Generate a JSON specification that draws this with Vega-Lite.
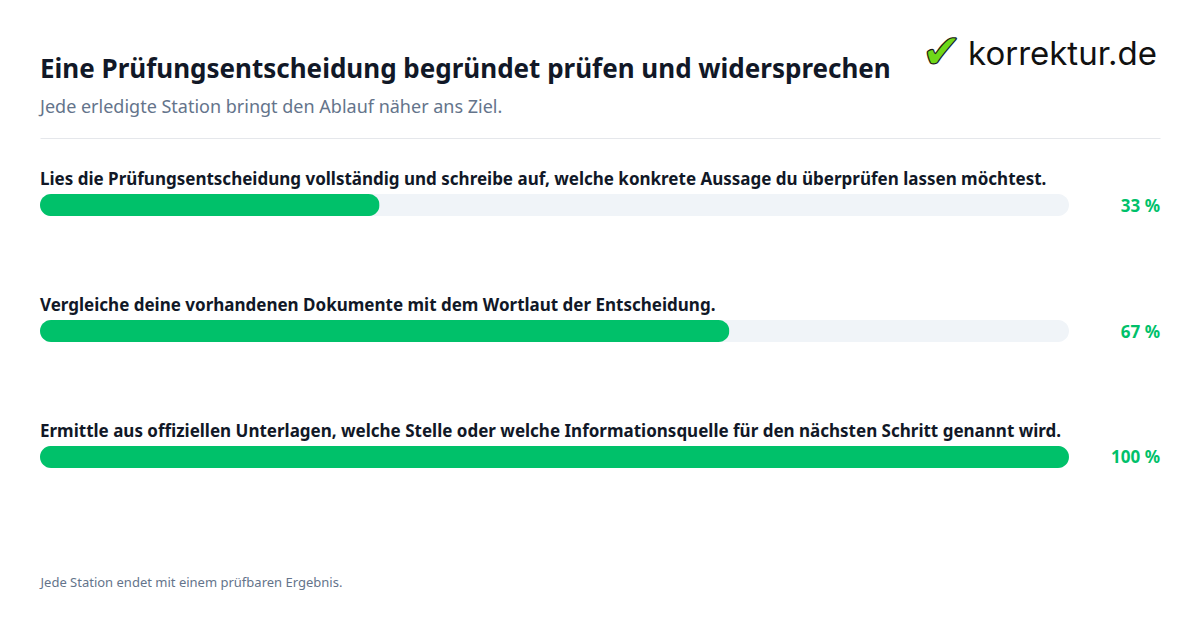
{
  "$schema": "https://vega.github.io/schema/vega-lite/v6.json",
  "width": 1120,
  "height": 386,
  "autosize": {"type": "none"},
  "padding": {"left": 40, "right": 40, "top": 138, "bottom": 106},
  "background": "#ffffff",
  "config": {"view": {"stroke": null}, "font": "Noto Sans"},
  "title": {
    "text": "Eine Prüfungsentscheidung begründet prüfen und widersprechen",
    "subtitle": "Jede erledigte Station bringt den Ablauf näher ans Ziel.",
    "anchor": "start",
    "frame": "group",
    "font": "Noto Sans",
    "fontSize": 26,
    "fontWeight": "bold",
    "color": "#111827",
    "subtitleFont": "Noto Sans",
    "subtitleFontSize": 18,
    "subtitleColor": "#64748b",
    "subtitlePadding": 16,
    "offset": -87
  },
  "data": {
    "values": [
      {"step": "Lies die Prüfungsentscheidung vollständig und schreibe auf, welche konkrete Aussage du überprüfen lassen möchtest.", "pct": 33, "label": "33 %"},
      {"step": "Vergleiche deine vorhandenen Dokumente mit dem Wortlaut der Entscheidung.", "pct": 67, "label": "67 %"},
      {"step": "Ermittle aus offiziellen Unterlagen, welche Stelle oder welche Informationsquelle für den nächsten Schritt genannt wird.", "pct": 100, "label": "100 %"}
    ]
  },
  "encoding": {
    "y": {"field": "step", "type": "nominal", "sort": null, "axis": null,
          "scale": {"paddingInner": 0, "paddingOuter": 0.032}}
  },
  "layer": [
    {
      "mark": {"type": "bar", "height": 22, "cornerRadius": 11, "color": "#f0f4f8"},
      "encoding": {
        "x": {"datum": 0, "type": "quantitative",
              "scale": {"domain": [0, 108.844], "nice": false, "zero": false},
              "axis": {"orient": "top", "title": null, "labels": false, "ticks": false, "grid": false,
                       "domain": true, "domainColor": "#e5e7eb", "domainWidth": 1}},
        "x2": {"datum": 100}
      }
    },
    {
      "mark": {"type": "bar", "height": 22, "cornerRadius": 11, "color": "#00c16a"},
      "encoding": {
        "x": {"field": "pct", "type": "quantitative",
              "scale": {"domain": [0, 108.844], "nice": false},
              "axis": {"orient": "bottom", "title": "Jede Station endet mit einem prüfbaren Ergebnis.",
                       "labels": false, "ticks": false, "grid": false, "domain": false,
                       "titleAnchor": "start", "titleAlign": "left", "titleFont": "Noto Sans",
                       "titleFontSize": 13, "titleFontWeight": "normal", "titleColor": "#64748b",
                       "titlePadding": 52}}
      }
    },
    {
      "mark": {"type": "text", "align": "left", "baseline": "alphabetic", "dy": -20,
               "font": "Noto Sans", "fontSize": 17, "fontWeight": "bold", "color": "#111827"},
      "encoding": {
        "x": {"datum": 0, "type": "quantitative", "scale": {"domain": [0, 108.844], "nice": false}, "axis": null},
        "text": {"field": "step"}
      }
    },
    {
      "mark": {"type": "text", "align": "right", "baseline": "middle", "dy": 1.5,
               "font": "Noto Sans", "fontSize": 17, "fontWeight": "bold", "color": "#00c16a"},
      "encoding": {
        "x": {"value": "width"},
        "text": {"field": "label"}
      }
    },
    {
      "data": {"values": [{"logo": "korrektur.de", "mark": "✔"}]},
      "layer": [
        {
          "mark": {"type": "text", "align": "right", "baseline": "alphabetic", "dx": -3, "dy": -73,
                   "font": "Inter", "fontSize": 33, "fontWeight": 400, "color": "#111111"},
          "encoding": {"x": {"value": "width"}, "y": {"value": 0}, "text": {"field": "logo"}}
        },
        {
          "mark": {"type": "text", "align": "right", "baseline": "alphabetic", "dx": -198, "dy": -70,
                   "font": "DejaVu Sans", "fontSize": 48, "color": "#6fd818", "stroke": "#1a1a1a", "strokeWidth": 1.2},
          "encoding": {"x": {"value": "width"}, "y": {"value": 0}, "text": {"field": "mark"}}
        }
      ]
    }
  ],
  "resolve": {"scale": {"x": "independent"}, "axis": {"x": "independent"}}
}
